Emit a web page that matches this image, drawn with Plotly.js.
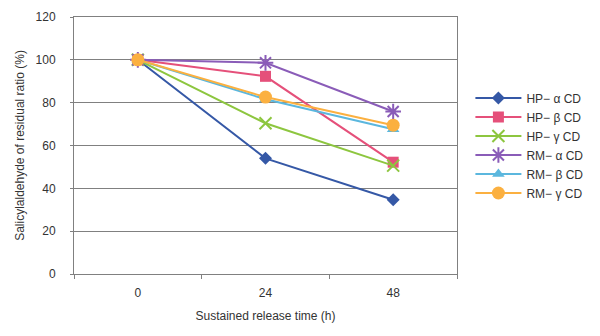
<!DOCTYPE html>
<html><head><meta charset="utf-8">
<script src="https://cdn.plot.ly/plotly-3.0.1.min.js"></script>
<style>body{margin:0;background:#fff}#c{width:600px;height:336px}</style>
</head><body><div id="c"></div>
<script>
const times = ["0", "24", "48"];
const seriesNames = ["HP− α CD", "HP− β CD", "HP− γ CD", "RM− α CD", "RM− β CD", "RM− γ CD"];
const hpAlpha = [100, 54, 34.7];
const hpBeta = [100, 92.3, 52.2];
const hpGamma = [100, 70.4, 50.6];
const rmAlpha = [100, 98.6, 75.9];
const rmBeta = [100, 81.6, 67.6];
const rmGamma = [100, 82.6, 69.5];
const yTicks = [0, 20, 40, 60, 80, 100, 120];

const values = [hpAlpha, hpBeta, hpGamma, rmAlpha, rmBeta, rmGamma];
const colors = ["#3558A6", "#E5507A", "#8DC63F", "#8A5CB8", "#5BB7DE", "#FBB040"];
const symbols = ["diamond", "square", "x-thin-open", "asterisk-open", "triangle-up", "circle"];
const sizes = [10, 11, 12, 13, 11, 13];

const traces = values.map((v, i) => ({
  x: times, y: v, name: seriesNames[i], type: "scatter", mode: "lines+markers",
  line: {color: colors[i], width: 2},
  marker: {symbol: symbols[i], size: sizes[i], color: colors[i],
           line: {color: colors[i], width: (symbols[i].indexOf("open") >= 0) ? 2 : 0}}
}));

const layout = {
  width: 600, height: 336,
  margin: {l: 74, r: 141, t: 17, b: 62},
  paper_bgcolor: "#fff", plot_bgcolor: "#fff",
  font: {family: "Liberation Sans, Arial, sans-serif", size: 12, color: "#333"},
  showlegend: true,
  legend: {x: 1.035, y: 0.5, yanchor: "middle", xanchor: "left", font: {size: 12, color: "#333"},
           tracegroupgap: 0, itemwidth: 46},
  xaxis: {type: "category", range: [-0.5, 2.5], tickson: "boundaries", ticks: "outside", ticklen: 4, tickcolor: "#808080",
          showline: true, linecolor: "#808080", linewidth: 1, mirror: true, showgrid: false,
          ticklabelstandoff: 8,
          title: {text: "Sustained release time (h)", font: {size: 12}, standoff: 12},
          tickfont: {size: 12}},
  yaxis: {range: [0, 120], tickvals: yTicks, ticks: "outside", ticklen: 3, tickcolor: "#808080",
          showline: true, linecolor: "#808080", linewidth: 1, mirror: true,
          showgrid: true, gridcolor: "#808080", gridwidth: 1, zeroline: false,
          ticklabelstandoff: 12,
          title: {text: "Salicylaldehyde of residual ratio (%)", font: {size: 12}, standoff: 8},
          tickfont: {size: 12}}
};
Plotly.newPlot("c", traces, layout, {displayModeBar: false, staticPlot: true});
</script></body></html>
